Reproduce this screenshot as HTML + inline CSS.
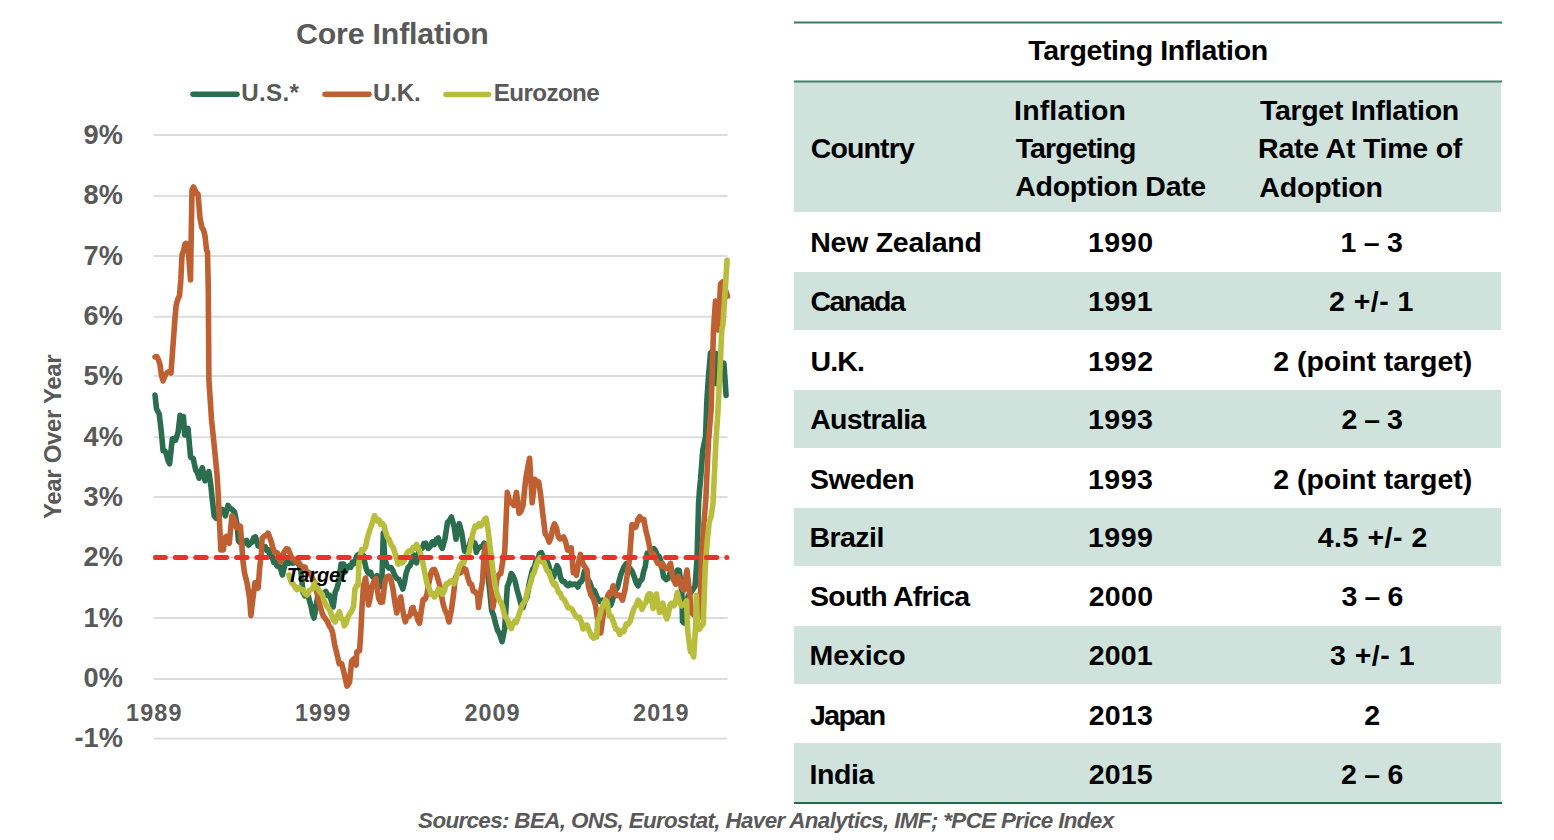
<!DOCTYPE html>
<html><head><meta charset="utf-8"><title>Core Inflation and Inflation Targeting</title>
<style>
html,body{margin:0;padding:0;background:#fff;}
body{width:1554px;height:840px;position:relative;overflow:hidden;font-family:"Liberation Sans",sans-serif;}
svg{position:absolute;left:0;top:0;}
svg text{font-family:"Liberation Sans",sans-serif;font-weight:bold;}
.tbl{position:absolute;left:0;top:0;width:1554px;height:840px;}
.hline{position:absolute;left:794px;width:708px;height:2px;background:#437f66;}
.shade{position:absolute;left:794px;width:707px;background:#cfe2dc;}
.t{position:absolute;white-space:nowrap;font-weight:bold;font-size:28.5px;line-height:0;color:#000;}
.src{position:absolute;white-space:nowrap;font-weight:bold;font-style:italic;font-size:22.4px;line-height:0;color:#595959;}
</style></head>
<body>
<svg width="760" height="840" viewBox="0 0 760 840">
<g stroke="#dddddd" stroke-width="2"><line x1="154" x2="727.6" y1="738.5" y2="738.5"/><line x1="154" x2="727.6" y1="678.9" y2="678.9"/><line x1="154" x2="727.6" y1="618.0" y2="618.0"/><line x1="154" x2="727.6" y1="557.5" y2="557.5"/><line x1="154" x2="727.6" y1="497.0" y2="497.0"/><line x1="154" x2="727.6" y1="437.2" y2="437.2"/><line x1="154" x2="727.6" y1="376.1" y2="376.1"/><line x1="154" x2="727.6" y1="316.8" y2="316.8"/><line x1="154" x2="727.6" y1="256.0" y2="256.0"/><line x1="154" x2="727.6" y1="196.0" y2="196.0"/><line x1="154" x2="727.6" y1="135.0" y2="135.0"/></g>
<text x="296.1" y="44.4" font-size="30.3" fill="#595959" style="letter-spacing:-0.19px" >Core Inflation</text>
<text x="241.2" y="101.3" font-size="24.2" fill="#595959" style="letter-spacing:0.33px" >U.S.*</text>
<text x="372.9" y="101.3" font-size="24.2" fill="#595959" style="letter-spacing:-0.20px" >U.K.</text>
<text x="493.8" y="101.3" font-size="24.2" fill="#595959" style="letter-spacing:-0.62px" >Eurozone</text>
<text x="74.4" y="747.1" font-size="27.2" fill="#595959" style="letter-spacing:0.06px" >-1%</text>
<text x="83.6" y="686.8" font-size="27.2" fill="#595959" style="letter-spacing:0.00px" >0%</text>
<text x="83.6" y="626.5" font-size="27.2" fill="#595959" style="letter-spacing:0.00px" >1%</text>
<text x="83.6" y="566.1" font-size="27.2" fill="#595959" style="letter-spacing:0.00px" >2%</text>
<text x="83.6" y="505.8" font-size="27.2" fill="#595959" style="letter-spacing:0.00px" >3%</text>
<text x="83.6" y="445.5" font-size="27.2" fill="#595959" style="letter-spacing:0.00px" >4%</text>
<text x="83.6" y="385.1" font-size="27.2" fill="#595959" style="letter-spacing:0.00px" >5%</text>
<text x="83.6" y="324.8" font-size="27.2" fill="#595959" style="letter-spacing:-0.00px" >6%</text>
<text x="83.6" y="264.5" font-size="27.2" fill="#595959" style="letter-spacing:-0.00px" >7%</text>
<text x="83.6" y="204.2" font-size="27.2" fill="#595959" style="letter-spacing:0.00px" >8%</text>
<text x="83.6" y="143.8" font-size="27.2" fill="#595959" style="letter-spacing:0.00px" >9%</text>
<text x="126.1" y="720.7" font-size="23.4" fill="#595959" style="letter-spacing:1.12px" >1989</text>
<text x="294.9" y="720.7" font-size="23.4" fill="#595959" style="letter-spacing:1.09px" >1999</text>
<text x="464.6" y="720.7" font-size="23.4" fill="#595959" style="letter-spacing:0.98px" >2009</text>
<text x="633.1" y="720.7" font-size="23.4" fill="#595959" style="letter-spacing:1.14px" >2019</text>
<text transform="translate(60.5 518.7) rotate(-90)" x="-0.4" y="0" font-size="24.0" fill="#595959" style="letter-spacing:-0.33px">Year Over Year</text>
<g fill="none" stroke-width="5.5" stroke-linecap="round">
<line x1="193" x2="237" y1="94.3" y2="94.3" stroke="#2b6e4f"/>
<line x1="325" x2="369" y1="94.3" y2="94.3" stroke="#bf6032"/>
<line x1="446" x2="488.5" y1="94.5" y2="94.5" stroke="#b8bd3b"/>
</g>
<g fill="none" stroke-width="5.6" stroke-linejoin="round" stroke-linecap="round">
<polyline stroke="#2b6e4f" points="155.0,395.0 156.5,408.8 159.2,414.0 161.1,429.8 163.1,450.7 164.8,450.7 166.4,454.0 168.0,460.7 169.6,463.8 172.3,438.9 173.9,438.5 175.5,440.2 178.1,432.4 180.1,415.4 181.8,418.1 183.4,416.7 184.7,435.0 186.3,430.4 188.0,428.4 190.6,457.3 193.2,458.6 195.8,470.3 197.4,472.7 199.1,478.2 200.8,471.4 202.4,467.7 205.0,480.8 206.9,477.4 208.9,471.7 210.9,486.0 212.0,497.0 214.2,515.8 216.2,518.4 217.7,514.0 219.1,515.8 220.6,510.5 222.1,509.3 223.8,510.8 225.4,515.8 228.0,505.4 229.9,508.3 231.9,509.3 234.5,511.9 237.1,525.0 238.4,540.7 240.1,542.6 241.7,539.2 243.3,543.9 245.0,542.0 246.7,540.4 248.5,545.1 250.2,543.3 252.0,542.2 253.7,537.7 255.5,536.8 258.1,545.9 259.8,544.8 261.6,548.1 263.3,547.2 265.1,546.6 266.8,550.7 268.6,549.9 270.6,556.7 272.1,556.3 273.7,562.4 275.2,561.9 277.1,566.1 279.1,565.8 280.8,569.2 282.4,575.0 285.0,564.5 286.9,561.6 288.9,563.2 290.5,560.8 292.2,563.1 293.9,563.0 295.5,560.6 297.2,562.6 299.0,564.5 300.7,569.8 303.1,592.4 304.8,595.7 306.6,593.8 308.3,596.3 311.0,606.0 312.5,614.0 314.0,618.0 315.8,608.5 317.6,597.0 319.2,595.0 320.8,596.4 322.4,596.3 324.0,593.0 325.8,591.4 327.5,595.4 329.3,595.0 331.2,600.0 333.2,607.0 335.2,592.0 336.8,589.0 338.4,583.0 341.1,564.0 343.7,564.0 345.0,572.0 346.9,567.8 348.9,566.0 350.7,567.3 352.4,562.2 354.2,563.6 356.8,556.0 358.4,554.5 360.1,557.5 361.7,554.0 363.3,555.7 366.0,568.0 367.5,571.8 369.0,573.6 370.5,572.1 372.0,576.0 373.6,577.6 375.3,578.1 377.0,575.8 378.6,577.0 380.1,583.6 381.7,586.7 383.3,533.0 384.8,558.8 386.8,565.5 389.0,568.1 391.0,567.6 393.0,570.7 394.9,575.7 396.9,578.6 398.9,579.6 400.8,583.8 402.8,589.0 404.5,582.6 406.1,573.3 408.1,567.5 410.0,565.5 411.9,561.3 413.9,555.0 416.5,562.8 418.5,553.4 420.5,548.4 422.2,548.2 424.0,543.6 425.7,543.2 428.3,548.4 430.3,546.5 432.3,541.9 434.4,544.5 436.4,539.5 438.3,538.0 440.3,544.7 442.3,548.4 444.9,539.3 447.5,522.3 449.4,520.6 451.4,517.0 454.0,526.2 456.0,539.3 457.6,529.5 459.3,523.6 461.9,534.0 464.5,551.1 467.1,551.1 469.1,546.4 471.1,539.3 473.1,542.5 475.0,543.2 476.3,552.4 478.2,548.2 480.2,547.1 482.2,546.2 484.2,543.2 486.8,565.5 488.4,579.0 490.0,593.8 491.6,610.2 493.6,615.5 495.5,623.2 497.5,630.3 499.5,633.7 502.1,641.6 504.7,628.5 507.3,586.6 509.3,581.6 511.3,573.5 513.2,576.3 515.2,581.4 517.2,590.4 519.1,597.0 521.0,604.3 523.0,607.5 525.0,600.9 527.0,597.0 529.0,584.7 530.9,576.1 532.6,569.5 534.4,567.0 536.1,560.4 537.9,559.1 539.6,553.7 541.4,552.6 543.1,556.7 544.9,559.0 546.6,560.4 548.3,564.3 550.1,570.3 551.8,578.7 553.6,576.6 555.3,571.3 557.1,565.7 558.8,568.9 560.6,577.8 562.3,581.4 564.4,581.6 566.5,584.7 568.3,585.7 570.0,583.4 571.8,584.7 573.3,584.3 574.8,584.0 576.4,584.4 577.9,587.1 579.5,582.8 581.1,581.9 582.8,578.6 584.4,571.4 586.1,573.6 587.9,580.0 589.6,581.9 592.3,589.8 594.2,590.2 596.2,595.0 598.2,599.7 600.1,601.5 602.0,600.1 604.0,602.8 605.8,605.9 607.5,603.7 609.3,606.0 610.8,605.2 612.4,600.4 614.1,594.0 615.9,589.6 617.6,587.3 619.4,579.7 621.1,574.0 623.7,567.5 626.3,563.6 628.2,568.3 630.2,568.8 632.2,571.4 634.2,576.7 636.2,582.9 638.1,585.8 640.0,581.0 642.0,579.3 643.6,571.8 645.3,566.2 647.2,553.1 648.8,553.0 650.3,550.7 652.0,549.7 653.8,548.6 655.5,550.7 657.3,555.8 659.0,556.3 660.8,561.2 663.6,577.0 666.2,579.6 668.2,578.2 670.1,573.1 672.0,572.3 674.0,574.4 675.8,574.5 677.5,570.1 679.3,570.5 681.9,592.7 682.5,621.5 684.0,622.8 685.0,603.2 686.6,601.6 688.2,595.9 689.8,594.0 692.4,590.1 695.0,586.2 697.0,560.0 698.6,503.1 699.5,490.0 700.5,480.0 702.8,450.0 705.5,437.0 706.9,400.0 708.6,375.0 710.5,353.0 712.3,351.0 714.1,354.1 715.9,353.6 716.4,383.6 718.2,379.3 720.0,372.0 722.0,369.4 723.9,363.2 726.1,395.4"/>
<polyline stroke="#bf6032" points="155.0,357.0 156.8,356.5 158.5,359.8 160.0,364.6 161.6,376.0 163.1,380.8 165.7,374.3 167.5,372.3 169.2,371.6 171.0,373.0 173.0,345.5 174.9,319.3 176.2,304.9 177.8,299.2 179.5,295.7 180.8,280.0 182.0,255.0 183.5,250.8 185.0,244.0 186.5,243.3 188.0,246.0 190.5,280.0 192.0,190.0 193.5,187.0 195.0,190.0 196.5,193.2 198.0,194.0 200.0,218.0 202.0,228.0 203.5,229.8 205.0,236.0 206.5,250.0 207.5,252.0 208.3,290.0 208.9,380.0 211.5,419.3 214.2,445.5 216.8,471.7 218.0,490.0 219.5,522.4 220.8,549.9 223.4,549.9 224.7,538.1 226.3,536.3 228.0,536.8 229.3,543.3 231.9,515.8 233.6,518.0 235.2,522.4 236.5,527.6 238.4,528.1 240.4,526.3 241.7,543.3 243.0,561.7 244.4,572.4 247.0,582.8 249.6,598.6 250.9,615.6 252.9,598.6 254.9,582.8 256.6,583.3 258.2,588.1 259.5,569.8 261.4,552.7 262.1,538.3 264.7,535.7 266.4,535.6 268.0,533.1 270.6,539.6 273.2,548.8 275.1,552.9 277.1,552.7 278.8,555.1 280.4,561.9 282.0,559.2 283.7,552.7 286.3,548.8 288.2,549.2 290.2,554.0 292.2,558.9 294.2,559.3 295.9,561.9 297.7,560.7 299.4,563.2 301.4,566.2 303.3,567.1 305.1,567.1 306.8,572.5 308.6,572.4 310.3,573.3 312.0,577.0 314.1,581.8 316.2,589.7 318.8,601.5 321.4,610.7 323.4,616.2 325.3,618.6 327.3,621.3 329.3,626.0 331.0,628.2 332.6,632.4 334.6,644.3 336.5,652.0 339.2,663.8 341.8,663.8 344.4,674.3 347.0,686.1 349.6,682.1 351.6,661.2 354.2,658.6 356.2,665.1 356.8,652.0 359.5,650.7 360.8,632.4 362.1,606.2 363.4,586.5 365.5,578.0 367.1,589.5 368.6,605.0 370.2,597.5 371.9,586.5 373.9,581.5 376.0,578.6 378.6,598.2 380.6,602.4 382.5,602.1 385.1,581.2 387.1,576.6 389.0,576.0 390.9,579.7 392.8,587.9 394.8,601.9 396.8,613.0 398.8,603.0 400.7,597.0 402.2,607.2 403.8,615.7 405.3,621.9 407.0,617.1 408.6,616.7 410.1,615.0 411.6,608.4 413.1,607.5 414.7,613.6 416.4,614.0 418.0,620.5 419.6,623.2 421.4,610.2 423.1,599.5 425.1,599.2 427.0,594.3 428.9,582.8 430.9,573.3 432.6,569.7 434.4,569.4 437.0,575.9 439.6,585.1 441.5,596.0 443.2,604.3 444.9,610.0 446.9,614.0 449.0,622.0 451.4,610.0 453.4,595.5 455.4,578.0 457.4,573.5 459.3,573.3 461.2,572.3 463.2,568.1 465.8,569.4 467.8,577.7 469.8,583.8 471.5,584.2 473.3,591.1 475.0,591.7 477.6,595.0 478.5,607.5 480.5,592.9 482.5,581.4 484.2,552.4 486.1,544.5 488.1,565.5 490.7,585.1 492.9,607.5 494.9,595.2 496.9,578.7 498.9,574.5 500.8,573.5 502.8,561.0 504.7,552.6 507.3,492.4 509.9,502.8 511.9,502.5 513.9,505.4 516.5,492.4 519.1,513.3 521.0,511.3 523.0,505.4 525.7,479.3 527.7,467.5 529.6,458.3 532.2,502.8 534.8,479.3 536.8,481.7 538.7,481.9 540.7,495.3 542.7,513.3 545.3,534.2 547.2,536.4 549.2,542.1 551.0,537.4 552.7,528.6 554.5,523.8 556.5,528.2 558.4,536.9 560.1,538.9 561.9,538.8 563.6,536.9 565.5,541.4 567.5,549.9 569.4,550.8 571.3,547.9 573.3,572.7 574.9,572.4 576.5,575.3 578.5,563.0 580.5,554.4 582.5,562.5 584.4,566.2 587.0,570.1 588.3,585.8 590.9,595.0 593.6,598.9 595.5,605.5 597.5,618.6 599.1,624.1 600.8,633.0 602.7,618.6 604.7,605.5 606.4,601.9 608.0,595.0 609.6,592.5 611.2,593.7 613.2,585.8 615.2,592.4 616.8,595.7 618.4,595.0 620.4,595.6 622.4,600.2 625.0,589.8 627.6,572.7 629.6,558.3 632.0,524.5 634.0,527.6 635.9,527.1 637.8,519.8 639.8,516.6 641.8,520.0 643.8,519.3 645.8,530.3 647.7,537.6 650.3,550.7 652.0,555.5 653.8,554.2 655.5,558.5 657.5,563.2 659.5,563.8 661.0,566.1 662.4,563.3 663.9,565.9 665.9,568.4 667.9,568.6 670.5,563.3 673.1,579.0 675.7,584.3 678.3,576.4 681.0,584.3 682.5,588.9 684.0,590.0 685.5,578.5 687.0,570.0 689.5,592.0 691.5,613.0 693.2,614.5 695.0,612.0 696.8,613.1 698.5,618.0 700.2,600.0 701.5,556.0 703.5,529.0 705.8,500.0 708.4,442.0 711.1,410.0 713.5,330.0 715.5,301.0 717.5,310.0 718.5,330.0 720.5,284.0 722.5,282.0 725.0,289.0 727.5,296.0"/>
<polyline stroke="#b8bd3b" points="288.9,575.0 291.5,582.8 293.5,584.3 295.5,588.1 297.2,589.6 299.0,587.5 300.7,589.4 303.1,589.7 305.1,594.0 307.0,595.0 308.9,590.8 310.9,589.7 312.7,588.6 314.4,583.3 316.2,583.2 318.1,589.0 320.1,592.4 322.1,594.1 324.0,600.2 325.8,604.7 327.5,607.3 329.3,609.4 332.0,616.0 333.6,620.3 335.2,621.9 337.4,615.7 339.5,611.7 341.1,618.4 342.8,619.4 344.4,625.8 346.1,623.3 347.9,616.9 349.6,614.0 351.6,611.3 353.6,606.2 354.9,589.2 356.5,585.7 358.1,585.2 358.9,562.8 361.5,549.8 363.5,550.2 365.5,547.1 367.4,537.9 369.4,531.4 372.0,523.6 374.6,515.7 377.3,520.9 379.0,519.9 380.8,524.4 382.5,523.6 384.1,526.0 385.8,532.7 387.4,537.3 389.0,539.3 391.0,544.3 393.0,547.1 395.6,555.0 398.2,564.2 400.1,561.5 402.1,562.8 404.1,560.5 406.1,555.0 407.8,551.9 409.6,550.7 411.3,551.1 413.0,547.5 414.8,548.4 416.5,544.5 419.2,549.8 421.8,557.6 424.4,570.7 427.0,583.8 428.9,587.5 430.9,594.3 432.6,593.4 434.4,596.9 436.4,594.8 438.3,589.0 440.3,589.8 442.3,594.3 444.2,591.3 446.2,583.8 448.1,583.8 450.1,581.2 452.1,580.7 454.0,583.8 456.0,578.8 458.0,570.7 459.9,565.6 461.9,562.8 463.6,563.0 465.4,558.1 467.1,557.6 469.1,551.9 471.1,541.9 473.1,532.5 475.0,526.2 476.9,527.0 478.9,523.6 480.9,525.7 482.8,523.6 484.5,519.4 486.1,518.3 488.1,530.1 490.7,552.4 493.3,573.3 495.2,585.9 497.2,594.3 499.0,599.5 500.8,602.3 502.5,606.3 504.3,614.4 506.0,618.0 507.8,620.2 509.5,626.5 511.3,628.5 512.9,624.2 514.5,621.4 516.2,622.4 517.8,618.0 519.4,613.1 521.0,608.2 522.7,604.2 524.3,602.3 525.9,598.6 527.6,590.1 529.2,587.7 530.9,581.4 532.6,575.0 534.4,572.0 536.1,565.7 538.0,560.6 540.0,557.8 541.8,561.9 543.5,561.0 545.3,565.7 547.0,570.6 548.8,571.8 550.5,577.0 552.1,580.9 553.8,584.8 555.4,583.7 557.0,588.0 558.7,592.4 560.3,593.4 562.0,598.0 564.0,599.3 566.0,603.0 568.0,607.7 570.0,608.0 572.0,609.4 574.0,613.0 576.0,616.5 578.0,618.0 579.5,617.2 581.0,621.0 583.1,629.0 585.0,625.2 587.0,625.1 589.6,631.7 591.6,636.4 593.6,638.2 595.2,635.6 596.8,636.9 597.5,621.2 599.5,617.3 601.4,609.4 603.4,603.6 605.4,600.2 607.3,602.8 609.3,615.9 611.2,616.3 613.2,621.2 615.8,629.0 617.8,629.6 619.8,634.3 621.8,631.1 623.7,631.7 626.3,623.8 628.2,624.1 630.2,621.2 632.2,613.7 634.2,608.1 636.2,605.5 638.1,600.2 640.0,602.9 642.0,609.4 644.0,604.6 645.9,602.8 647.5,596.0 649.2,593.7 650.5,594.0 653.1,608.4 654.8,599.8 656.4,594.0 658.0,604.5 659.6,612.4 661.2,606.6 662.9,603.2 664.8,613.2 666.8,618.9 668.5,613.3 670.1,604.5 672.0,603.1 674.0,605.8 675.6,601.1 677.3,592.7 679.9,603.2 681.5,605.8 683.2,604.5 684.9,604.1 686.5,600.6 687.8,632.0 690.4,651.7 692.0,652.3 693.7,656.9 695.6,625.5 696.3,595.4 697.6,628.1 699.2,629.5 700.9,626.8 703.2,624.0 705.2,568.6 707.1,542.4 709.1,522.7 711.1,516.2 713.0,503.1 715.9,442.1 718.0,410.0 719.9,371.5 721.8,330.0 722.9,325.0 725.0,292.9 727.1,260.2"/>
</g>
<clipPath id="pc"><rect x="153.2" y="0" width="580" height="840"/></clipPath>
<line clip-path="url(#pc)" x1="154.9" x2="726.9" y1="557.5" y2="557.5" stroke="#e8322a" stroke-width="5" stroke-linecap="round" stroke-dasharray="10.4 10.025"/>
<text x="286.8" y="582.4" font-size="20.2" font-style="italic" fill="#000" style="letter-spacing:-0.18px" >Target</text>
</svg>
<div class="tbl">
<div class="shade" style="top:82px;height:130px"></div>
<div class="shade" style="top:272px;height:58px"></div><div class="shade" style="top:390px;height:58px"></div><div class="shade" style="top:508px;height:58px"></div><div class="shade" style="top:626px;height:58px"></div><div class="shade" style="top:743px;height:59px"></div>
<svg width="1554" height="840" viewBox="0 0 1554 840" style="position:absolute;left:0;top:0">
<line x1="794" x2="1502" y1="22.5" y2="22.5" stroke="#3f7b62" stroke-width="2.2"/>
<line x1="794" x2="1502" y1="81.5" y2="81.5" stroke="#448268" stroke-width="2.2"/>
<line x1="794" x2="1502" y1="803" y2="803" stroke="#25694b" stroke-width="2.2"/>
</svg>
<span class="t" style="left:1028.3px;top:50.0px;letter-spacing:-0.37px">Targeting Inflation</span>
<span class="t" style="left:810.7px;top:148.0px;letter-spacing:-0.86px">Country</span>
<span class="t" style="left:1014.1px;top:110.0px;letter-spacing:0.14px">Inflation</span>
<span class="t" style="left:1015.7px;top:148.0px;letter-spacing:-0.86px">Targeting</span>
<span class="t" style="left:1015.3px;top:186.0px;letter-spacing:-0.32px">Adoption Date</span>
<span class="t" style="left:1259.9px;top:110.0px;letter-spacing:-0.29px">Target Inflation</span>
<span class="t" style="left:1258.1px;top:148.0px;letter-spacing:-0.23px">Rate At Time of</span>
<span class="t" style="left:1259.3px;top:187.0px;letter-spacing:-0.19px">Adoption</span>
<span class="t" style="left:810.3px;top:242.0px;letter-spacing:-0.27px">New Zealand</span>
<span class="t" style="left:1087.9px;top:242.0px;letter-spacing:0.59px">1990</span>
<span class="t" style="left:1340.6px;top:242.0px;letter-spacing:-0.27px">1 – 3</span>
<span class="t" style="left:810.4px;top:301.0px;letter-spacing:-1.49px">Canada</span>
<span class="t" style="left:1087.9px;top:301.0px;letter-spacing:0.47px">1991</span>
<span class="t" style="left:1329.0px;top:301.0px;letter-spacing:0.48px">2 +/- 1</span>
<span class="t" style="left:810.4px;top:361.0px;letter-spacing:-0.79px">U.K.</span>
<span class="t" style="left:1087.9px;top:361.0px;letter-spacing:0.59px">1992</span>
<span class="t" style="left:1273.3px;top:361.0px;letter-spacing:-0.04px">2 (point target)</span>
<span class="t" style="left:810.2px;top:419.0px;letter-spacing:-0.75px">Australia</span>
<span class="t" style="left:1087.9px;top:419.0px;letter-spacing:0.55px">1993</span>
<span class="t" style="left:1341.4px;top:419.0px;letter-spacing:-0.46px">2 – 3</span>
<span class="t" style="left:810.0px;top:479.0px;letter-spacing:-0.62px">Sweden</span>
<span class="t" style="left:1087.9px;top:479.0px;letter-spacing:0.55px">1993</span>
<span class="t" style="left:1273.3px;top:479.0px;letter-spacing:-0.04px">2 (point target)</span>
<span class="t" style="left:809.5px;top:537.0px;letter-spacing:-0.55px">Brazil</span>
<span class="t" style="left:1087.9px;top:537.0px;letter-spacing:0.55px">1999</span>
<span class="t" style="left:1317.7px;top:537.0px;letter-spacing:0.55px">4.5 +/- 2</span>
<span class="t" style="left:810.1px;top:596.0px;letter-spacing:-0.77px">South Africa</span>
<span class="t" style="left:1088.7px;top:596.0px;letter-spacing:0.33px">2000</span>
<span class="t" style="left:1341.4px;top:596.0px;letter-spacing:-0.35px">3 – 6</span>
<span class="t" style="left:809.6px;top:655.0px;letter-spacing:-0.10px">Mexico</span>
<span class="t" style="left:1088.7px;top:655.0px;letter-spacing:0.21px">2001</span>
<span class="t" style="left:1329.9px;top:655.0px;letter-spacing:0.52px">3 +/- 1</span>
<span class="t" style="left:810.0px;top:715.0px;letter-spacing:-1.58px">Japan</span>
<span class="t" style="left:1088.7px;top:715.0px;letter-spacing:0.28px">2013</span>
<span class="t" style="left:1364.3px;top:715.0px;letter-spacing:0.00px">2</span>
<span class="t" style="left:809.6px;top:774.0px;letter-spacing:-0.44px">India</span>
<span class="t" style="left:1088.7px;top:774.0px;letter-spacing:0.21px">2015</span>
<span class="t" style="left:1341.0px;top:774.0px;letter-spacing:-0.26px">2 – 6</span>
</div>
<div class="src" style="left:418.1px;top:820.5px;letter-spacing:-0.64px">Sources: BEA, ONS, Eurostat, Haver Analytics, IMF; *PCE Price Index</div>
</body></html>
